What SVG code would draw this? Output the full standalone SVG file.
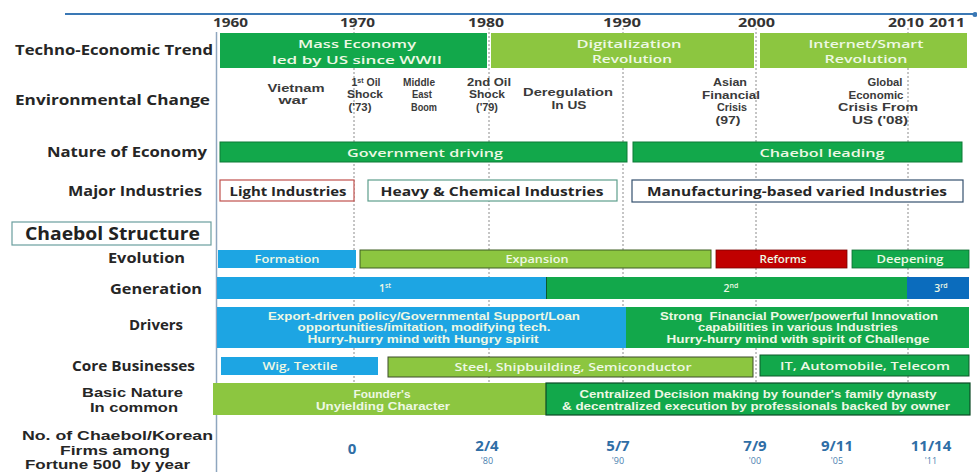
<svg xmlns="http://www.w3.org/2000/svg" width="977" height="472" viewBox="0 0 977 472">
<style>
text{font-family:"Open Sans","DejaVu Sans",sans-serif}
.ml{font-family:"Liberation Sans","Arial",sans-serif}
.lab{font-size:14px;font-weight:700;fill:#262626}
.lab2{font-size:12.5px;font-weight:700;fill:#262626}
.yr{font-size:13px;font-weight:700;fill:#333}
.env{font-size:10.5px;font-weight:700;fill:#3a3a3a;text-anchor:middle}
.bt{font-size:11.5px;font-weight:600;fill:#eef8e4;text-anchor:middle}
.bt2{font-size:10.5px;font-weight:600;fill:#eef8e4;text-anchor:middle}
.bt3{font-size:10px;font-weight:700;fill:#eef8e4;text-anchor:middle}
.mi{font-size:13px;font-weight:700;fill:#262626;text-anchor:middle}
.dg{fill:#12a84b}
.lg{fill:#8cc640}
.lb{fill:#1da5e3}
.rd{fill:#c00000}
.db{fill:#0b6cbd}
.grid{stroke:#8c8c8c;stroke-width:1;stroke-dasharray:2 2}
.num{font-size:15px;font-weight:700;fill:#2f6ea6;text-anchor:middle}
.ny{font-size:9px;fill:#4a7fb0;text-anchor:middle}
</style>
<rect x="0" y="0" width="977" height="472" fill="#fff"/>
<g id="connectors">
<line x1="65" y1="14" x2="975" y2="14" stroke="#3a78b5" stroke-width="2"/>
<circle cx="975" cy="14.5" r="2.5" fill="#3a78b5"/>
<line x1="216.5" y1="32" x2="216.5" y2="472" stroke="#8ea6bf" stroke-width="1.5"/>
<line class="grid" x1="354" y1="20" x2="354" y2="415"/>
<line class="grid" x1="489" y1="28" x2="489" y2="415"/>
<line class="grid" x1="623" y1="28" x2="623" y2="415"/>
<line class="grid" x1="756" y1="28" x2="756" y2="415"/>
<line class="grid" x1="908" y1="28" x2="908" y2="415"/>
</g>
<g id="years">
<text class="yr" x="213" y="27" textLength="35" lengthAdjust="spacingAndGlyphs">1960</text>
<text class="yr" x="340" y="27" textLength="35" lengthAdjust="spacingAndGlyphs">1970</text>
<text class="yr" x="468" y="27" textLength="36" lengthAdjust="spacingAndGlyphs">1980</text>
<text class="yr" x="603" y="27" textLength="38" lengthAdjust="spacingAndGlyphs">1990</text>
<text class="yr" x="738" y="27" textLength="37" lengthAdjust="spacingAndGlyphs">2000</text>
<text class="yr" x="888" y="27" textLength="36" lengthAdjust="spacingAndGlyphs">2010</text>
<text class="yr" x="929" y="27" textLength="36" lengthAdjust="spacingAndGlyphs">2011</text>
</g>
<g id="labels">
<text class="lab" x="15" y="55" textLength="198" lengthAdjust="spacingAndGlyphs">Techno-Economic Trend</text>
<text class="lab" x="15" y="105" textLength="195" lengthAdjust="spacingAndGlyphs">Environmental Change</text>
<text class="lab" x="47" y="157" textLength="160" lengthAdjust="spacingAndGlyphs">Nature of Economy</text>
<text class="lab" x="68" y="196" textLength="134" lengthAdjust="spacingAndGlyphs">Major Industries</text>
<text class="lab" x="108" y="263" textLength="77" lengthAdjust="spacingAndGlyphs">Evolution</text>
<text class="lab" x="110" y="294" textLength="92" lengthAdjust="spacingAndGlyphs">Generation</text>
<text class="lab" x="129" y="330" textLength="54" lengthAdjust="spacingAndGlyphs">Drivers</text>
<text class="lab" x="72" y="371" textLength="123" lengthAdjust="spacingAndGlyphs">Core Businesses</text>
<text class="lab2 ml"><tspan x="82" y="397" textLength="101" lengthAdjust="spacingAndGlyphs">Basic Nature</tspan><tspan x="90" y="411.5" textLength="88" lengthAdjust="spacingAndGlyphs">In common</tspan></text>
<text class="lab2 ml" xml:space="preserve"><tspan x="22" y="440" textLength="191" lengthAdjust="spacingAndGlyphs">No. of Chaebol/Korean</tspan><tspan x="60" y="454.5" textLength="110" lengthAdjust="spacingAndGlyphs">Firms among</tspan><tspan x="25" y="468.5" textLength="165" lengthAdjust="spacingAndGlyphs">Fortune 500  by year</tspan></text>
</g>
<g id="chaebol-structure">
<rect x="12" y="222" width="199" height="23" fill="#fff" stroke="#6a9e9e" stroke-width="1.2"/>
<text x="25" y="240" font-size="18" font-weight="700" fill="#222" textLength="175" lengthAdjust="spacingAndGlyphs">Chaebol Structure</text>
</g>
<g id="trend">
<rect class="dg" x="220" y="33" width="267" height="35"/>
<text class="bt"><tspan x="357" y="48" textLength="118" lengthAdjust="spacingAndGlyphs">Mass Economy</tspan><tspan x="357" y="64" textLength="170" lengthAdjust="spacingAndGlyphs">led by US since WWII</tspan></text>
<rect class="lg" x="491" y="33" width="263" height="35"/>
<text class="bt"><tspan x="629" y="48" textLength="105" lengthAdjust="spacingAndGlyphs">Digitalization</tspan><tspan x="632" y="63" textLength="80" lengthAdjust="spacingAndGlyphs">Revolution</tspan></text>
<rect class="lg" x="760" y="33" width="207" height="35"/>
<text class="bt"><tspan x="866" y="48" textLength="115" lengthAdjust="spacingAndGlyphs">Internet/Smart</tspan><tspan x="866" y="63" textLength="83" lengthAdjust="spacingAndGlyphs">Revolution</tspan></text>
</g>
<g id="environment">
<text class="env ml"><tspan x="296" y="92" textLength="57" lengthAdjust="spacingAndGlyphs">Vietnam</tspan><tspan x="293" y="104" textLength="29" lengthAdjust="spacingAndGlyphs">war</tspan></text>
<text class="env ml"><tspan x="366" y="86">1<tspan font-size="7" dy="-3">st</tspan><tspan dy="3"> Oil</tspan></tspan><tspan x="365" y="98" textLength="36" lengthAdjust="spacingAndGlyphs">Shock</tspan><tspan x="360" y="111" textLength="23" lengthAdjust="spacingAndGlyphs">('73)</tspan></text>
<text class="env ml"><tspan x="419" y="86" textLength="32" lengthAdjust="spacingAndGlyphs">Middle</tspan><tspan x="422" y="98" textLength="20" lengthAdjust="spacingAndGlyphs">East</tspan><tspan x="424" y="111" textLength="26" lengthAdjust="spacingAndGlyphs">Boom</tspan></text>
<text class="env ml"><tspan x="489" y="86" textLength="44" lengthAdjust="spacingAndGlyphs">2nd Oil</tspan><tspan x="487" y="98" textLength="36" lengthAdjust="spacingAndGlyphs">Shock</tspan><tspan x="487" y="111" textLength="22" lengthAdjust="spacingAndGlyphs">('79)</tspan></text>
<text class="env ml"><tspan x="568" y="96" textLength="90" lengthAdjust="spacingAndGlyphs">Deregulation</tspan><tspan x="569" y="108.5" textLength="35" lengthAdjust="spacingAndGlyphs">In US</tspan></text>
<text class="env ml"><tspan x="730" y="86" textLength="34" lengthAdjust="spacingAndGlyphs">Asian</tspan><tspan x="731" y="98.5" textLength="58" lengthAdjust="spacingAndGlyphs">Financial</tspan><tspan x="732" y="111" textLength="30" lengthAdjust="spacingAndGlyphs">Crisis</tspan><tspan x="728" y="123.5" textLength="25" lengthAdjust="spacingAndGlyphs">(97)</tspan></text>
<text class="env ml"><tspan x="885" y="86" textLength="35" lengthAdjust="spacingAndGlyphs">Global</tspan><tspan x="876" y="98.5" textLength="55" lengthAdjust="spacingAndGlyphs">Economic</tspan><tspan x="878" y="111" textLength="80" lengthAdjust="spacingAndGlyphs">Crisis From</tspan><tspan x="880" y="123.5" textLength="56" lengthAdjust="spacingAndGlyphs">US ('08)</tspan></text>
</g>
<g id="nature">
<rect class="dg" x="220" y="142" width="407" height="20" stroke="#0d7a36" stroke-width="1"/>
<text class="bt" x="425" y="156.5" font-size="13" textLength="156" lengthAdjust="spacingAndGlyphs">Government driving</text>
<rect class="dg" x="633" y="142" width="329" height="20" stroke="#0d7a36" stroke-width="1"/>
<text class="bt" x="822" y="156.5" font-size="13" textLength="125" lengthAdjust="spacingAndGlyphs">Chaebol leading</text>
</g>
<g id="industries">
<rect x="220" y="180" width="134" height="21" fill="#fff" stroke="#c0504d" stroke-width="1.2"/>
<text class="mi" x="288" y="195.5" textLength="117" lengthAdjust="spacingAndGlyphs">Light Industries</text>
<rect x="368" y="180" width="249" height="21" fill="#fff" stroke="#5e9e8c" stroke-width="1.2"/>
<text class="mi" x="492" y="195.5" textLength="223" lengthAdjust="spacingAndGlyphs">Heavy &amp; Chemical Industries</text>
<rect x="632" y="180" width="331" height="22" fill="#fff" stroke="#34506e" stroke-width="1.2"/>
<text class="mi" x="797" y="196" textLength="300" lengthAdjust="spacingAndGlyphs">Manufacturing-based varied Industries</text>
</g>
<g id="evolution">
<rect class="lb" x="218" y="250" width="138" height="18"/>
<text class="bt2" x="287" y="263" textLength="65" lengthAdjust="spacingAndGlyphs">Formation</text>
<rect class="lg" x="360" y="250" width="351" height="18" stroke="#3f5e22" stroke-width="1"/>
<text class="bt2" x="537" y="263" textLength="63" lengthAdjust="spacingAndGlyphs">Expansion</text>
<rect class="rd" x="716" y="250" width="131" height="18" stroke="#7a0000" stroke-width="0.8"/>
<text class="bt2" x="783" y="263" textLength="47" lengthAdjust="spacingAndGlyphs">Reforms</text>
<rect class="dg" x="852" y="250" width="117" height="18" stroke="#0d6a30" stroke-width="0.8"/>
<text class="bt2" x="910" y="263" textLength="67" lengthAdjust="spacingAndGlyphs">Deepening</text>
</g>
<g id="generation">
<rect class="lb" x="217" y="277" width="329" height="22"/>
<text class="bt2" x="385" y="292">1<tspan font-size="7" dy="-4">st</tspan></text>
<rect class="dg" x="546" y="277" width="361" height="22"/>
<line x1="546.5" y1="277" x2="546.5" y2="299" stroke="#0d5a2a" stroke-width="1"/>
<text class="bt2" x="731" y="292">2<tspan font-size="7" dy="-4">nd</tspan></text>
<rect class="db" x="907" y="277" width="62" height="22"/>
<text class="bt2" x="941" y="292">3<tspan font-size="7" dy="-4">rd</tspan></text>
</g>
<g id="drivers">
<rect class="lb" x="217" y="307" width="409" height="41"/>
<text class="bt3 ml"><tspan x="424" y="319.5" textLength="312" lengthAdjust="spacingAndGlyphs">Export-driven policy/Governmental Support/Loan</tspan><tspan x="424" y="331" textLength="253" lengthAdjust="spacingAndGlyphs">opportunities/imitation, modifying tech.</tspan><tspan x="423" y="342.5" textLength="231" lengthAdjust="spacingAndGlyphs">Hurry-hurry mind with Hungry spirit</tspan></text>
<rect class="dg" x="626" y="307" width="343" height="41"/>
<text class="bt3 ml" xml:space="preserve"><tspan x="799" y="319.5" textLength="278" lengthAdjust="spacingAndGlyphs">Strong  Financial Power/powerful Innovation</tspan><tspan x="798" y="331" textLength="200" lengthAdjust="spacingAndGlyphs">capabilities in various Industries</tspan><tspan x="798" y="342.5" textLength="263" lengthAdjust="spacingAndGlyphs">Hurry-hurry mind with spirit of Challenge</tspan></text>
</g>
<g id="core">
<rect class="lb" x="221" y="357" width="157" height="18"/>
<text class="bt2" x="300" y="370" textLength="75" lengthAdjust="spacingAndGlyphs">Wig, Textile</text>
<rect class="lg" x="388" y="357" width="365" height="20" stroke="#3d4d2a" stroke-width="1"/>
<text class="bt2" x="573" y="371" textLength="237" lengthAdjust="spacingAndGlyphs">Steel, Shipbuilding, Semiconductor</text>
<rect class="dg" x="760" y="355" width="209" height="21" stroke="#0d5a2a" stroke-width="1"/>
<text class="bt2" x="865" y="369.5" textLength="170" lengthAdjust="spacingAndGlyphs">IT, Automobile, Telecom</text>
</g>
<g id="basic-nature">
<rect class="lg" x="213" y="383" width="333" height="32"/>
<text class="bt3 ml"><tspan x="382" y="397.5" textLength="57" lengthAdjust="spacingAndGlyphs">Founder's</tspan><tspan x="383" y="409.5" textLength="134" lengthAdjust="spacingAndGlyphs">Unyielding Character</tspan></text>
<rect class="dg" x="546" y="383" width="424" height="32" stroke="#0d4a26" stroke-width="1.2"/>
<text class="bt3 ml"><tspan x="758" y="397.5" textLength="357" lengthAdjust="spacingAndGlyphs">Centralized Decision making by founder's family dynasty</tspan><tspan x="756" y="409.5" textLength="388" lengthAdjust="spacingAndGlyphs">&amp; decentralized execution by professionals backed by owner</tspan></text>
</g>
<g id="fortune">
<text class="num" x="352" y="454">0</text>
<text class="num" x="487" y="451">2/4</text>
<text class="ny" x="487" y="464">'80</text>
<text class="num" x="618" y="451">5/7</text>
<text class="ny" x="618" y="464">'90</text>
<text class="num" x="755" y="451">7/9</text>
<text class="ny" x="755" y="464">'00</text>
<text class="num" x="837" y="451">9/11</text>
<text class="ny" x="837" y="464">'05</text>
<text class="num" x="931" y="451">11/14</text>
<text class="ny" x="931" y="464">'11</text>
</g>
</svg>
